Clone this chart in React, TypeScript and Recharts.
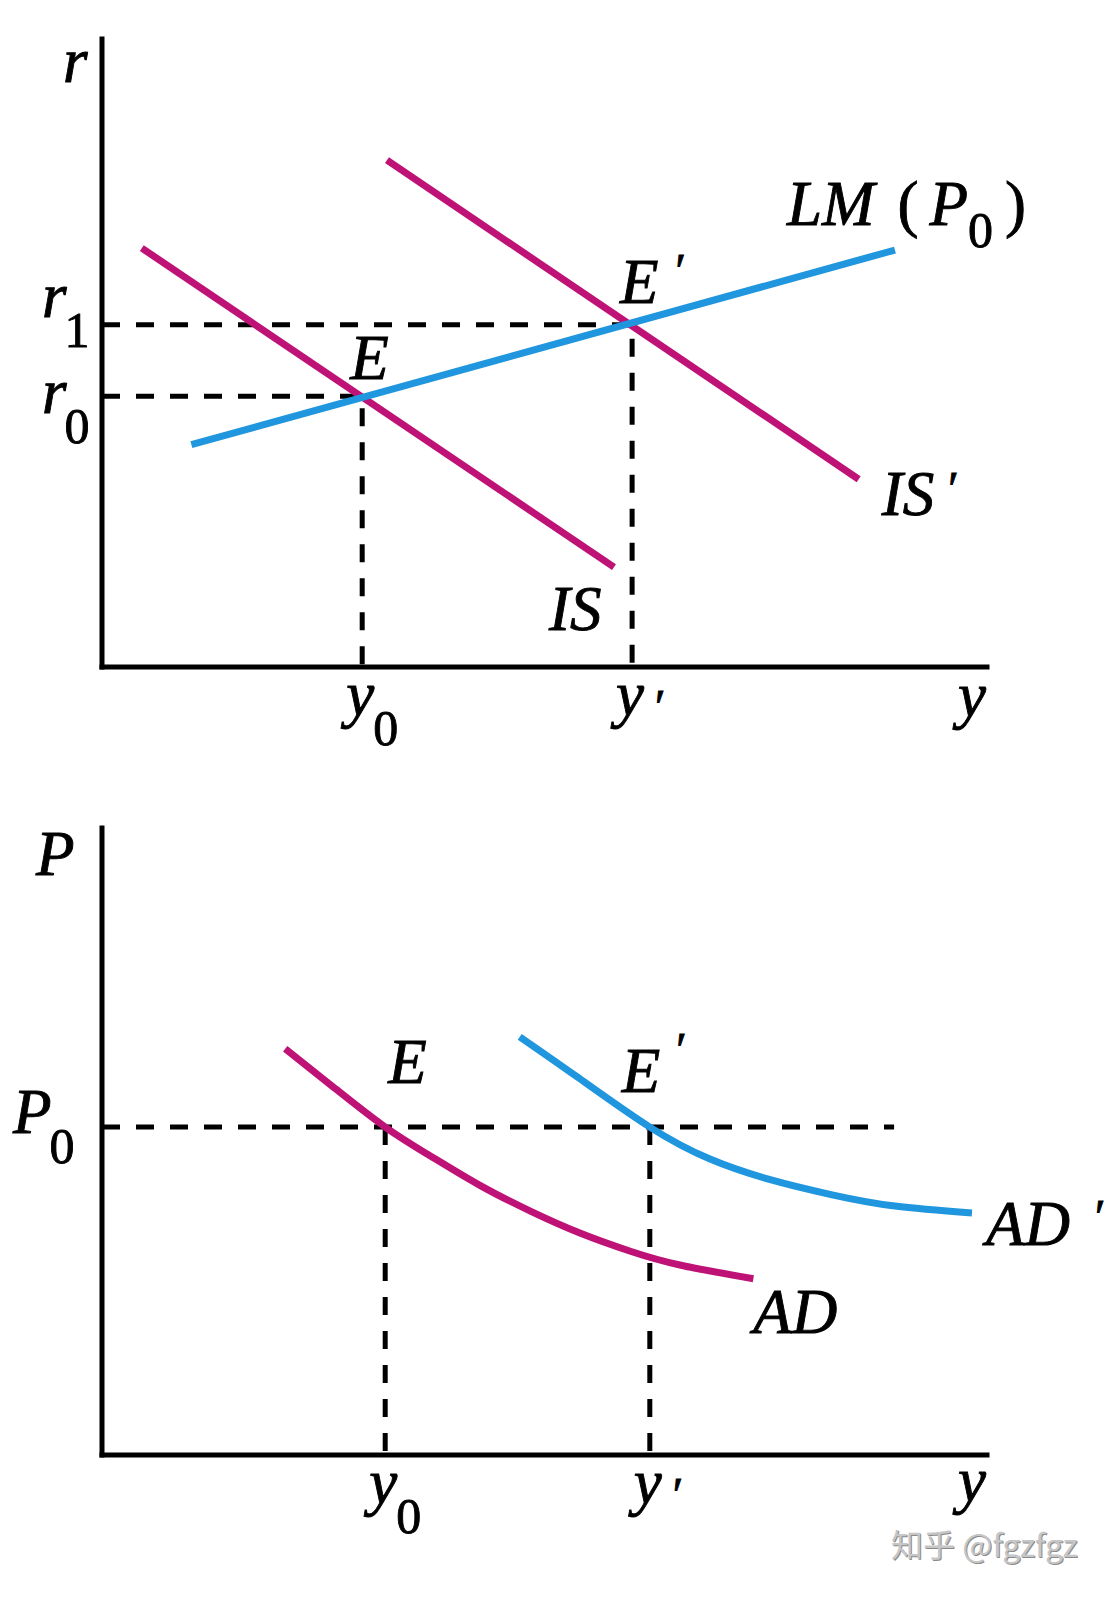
import { LineChart, Line, XAxis, YAxis, ReferenceDot } from "recharts";

const SERIF = "'Liberation Serif', 'Times New Roman', 'DejaVu Serif', serif";
const MAGENTA = "#BE1277";
const BLUE = "#1F96DE";
const DASH = "18 16";

// top panel: IS-LM, income y on the x axis, interest rate r on the y axis
const yTop = [2.94, 5.99]; // y0, y'
const yTopMarks = ["0", "′"];
const rTicks = [4.31, 5.45]; // r0, r1
const rMarks = ["0", "1"];
const isLine = [{ y: 0.45, r: 6.67 }, { y: 5.785, r: 1.59 }];
const isShifted = [{ y: 3.22, r: 8.07 }, { y: 8.55, r: 2.99 }];
const lmLine = [{ y: 1.01, r: 3.54 }, { y: 8.96, r: 6.64 }];

// bottom panel: AD, price level P on the y axis
const yBottom = [3.2, 6.19];
const yBottomMarks = ["0", "′"];
const pTicks = [5.23]; // P0
const pLineEnd = 8.95;
const adCurve = [
  { y: 2.07, p: 6.48 },
  { y: 2.63, p: 5.85 },
  { y: 3.2, p: 5.23 },
  { y: 3.71, p: 4.77 },
  { y: 4.27, p: 4.3 },
  { y: 4.84, p: 3.89 },
  { y: 5.4, p: 3.54 },
  { y: 5.97, p: 3.25 },
  { y: 6.53, p: 3.03 },
  { y: 7.36, p: 2.81 },
];
const adShifted = [
  { y: 4.72, p: 6.67 },
  { y: 5.37, p: 6.03 },
  { y: 6.19, p: 5.23 },
  { y: 6.87, p: 4.72 },
  { y: 7.53, p: 4.4 },
  { y: 8.25, p: 4.15 },
  { y: 8.96, p: 3.97 },
  { y: 9.83, p: 3.86 },
];

type Part = { t: string; k?: "i" | "n" | "s" | "p"; dx?: number; b?: number };

function Tex({ x, y, parts }: { x: number; y: number; parts: Part[] }) {
  let base = 0;
  return (
    <text x={x} y={y} fontFamily={SERIF} fontSize={63} fill="#000" stroke="#000" strokeWidth={0.9}>
      {parts.map((p, i) => {
        const k = p.k ?? "i";
        const b = p.b ?? (k === "s" ? 30 : 0);
        const dy = b - base;
        base = b;
        return (
          <tspan
            key={i}
            dx={p.dx ?? 0}
            dy={dy}
            fontStyle={k === "i" || k === "p" ? "italic" : "normal"}
            fontSize={k === "s" ? 50 : k === "p" ? 48 : 63}
          >
            {p.t}
          </tspan>
        );
      })}
    </text>
  );
}

// label tied to a data point, shifted by a few pixels
const note = (parts: Part[], dx: number, dy: number) => (p: any) =>
  <Tex x={p.cx + dx} y={p.cy + dy} parts={parts} />;

const xTick = (ticks: number[], marks: string[]) => (p: any) => {
  const m = marks[ticks.indexOf(p.payload.value)];
  const parts: Part[] =
    m === "′" ? [{ t: "y" }, { t: "′", k: "p", dx: 8, b: 8 }] : [{ t: "y" }, { t: m, k: "s", b: 30, dx: -1 }];
  return <Tex x={p.x - 16} y={p.y + 48} parts={parts} />;
};

const yTick = (sym: string, shift: number, ticks: number[], marks: string[], lift: Record<string, number>) =>
  (p: any) => {
    const m = marks[ticks.indexOf(p.payload.value)];
    const off = lift[m] ?? 0;
    return <Tex x={p.x - shift} y={p.y + off} parts={[{ t: sym }, { t: m, k: "s", b: 30, dx: -2 }]} />;
  };

const axisLine = { stroke: "#000", strokeWidth: 5, strokeLinecap: "square" as const };
const guide = { stroke: "#000", strokeWidth: 5, strokeDasharray: DASH, dot: false, isAnimationActive: false };

function TopPanel() {
  const [y0, y1] = yTop;
  const [r0, r1] = rTicks;
  return (
    <LineChart width={1115} height={780} margin={{ top: 39, right: 128, bottom: 0, left: 0 }}>
      <XAxis
        dataKey="y"
        type="number"
        domain={[0, 10]}
        allowDataOverflow
        height={113}
        ticks={yTop}
        interval={0}
        tickSize={0}
        tickMargin={0}
        tickLine={false}
        axisLine={axisLine}
        tick={xTick(yTop, yTopMarks)}
      />
      <YAxis
        type="number"
        domain={[0, 10]}
        allowDataOverflow
        width={102}
        ticks={rTicks}
        interval={0}
        tickSize={0}
        tickMargin={0}
        tickLine={false}
        axisLine={axisLine}
        tick={yTick("r", 60, rTicks, rMarks, { "0": 17, "1": -8 })}
      />
      <Line data={[{ y: 0, r: r0 }, { y: y0, r: r0 }, { y: y0, r: 0 }]} dataKey="r" {...guide} />
      <Line data={[{ y: 0, r: r1 }, { y: y1, r: r1 }, { y: y1, r: 0 }]} dataKey="r" {...guide} />
      <Line data={isLine} dataKey="r" stroke={MAGENTA} strokeWidth={7} dot={false} isAnimationActive={false} />
      <Line data={isShifted} dataKey="r" stroke={MAGENTA} strokeWidth={7} dot={false} isAnimationActive={false} />
      <Line data={lmLine} dataKey="r" stroke={BLUE} strokeWidth={7} dot={false} isAnimationActive={false} />
      <ReferenceDot x={0} y={10} ifOverflow="visible" shape={note([{ t: "r" }], -39, 43)} />
      <ReferenceDot x={10} y={0} ifOverflow="visible" shape={note([{ t: "y" }], -29, 49)} />
      <ReferenceDot x={y0} y={r0} shape={note([{ t: "E" }], -12, -17)} />
      <ReferenceDot x={y1} y={r1} shape={note([{ t: "E" }, { t: "′", k: "p", dx: 14, b: -16 }], -12, -22)} />
      <ReferenceDot
        x={lmLine[1].y}
        y={lmLine[1].r}
        shape={note(
          [
            { t: "LM" },
            { t: "(", k: "n", dx: 23 },
            { t: "P", dx: 11 },
            { t: "0", k: "s", b: 22 },
            { t: ")", k: "n", dx: 12, b: 0 },
          ],
          -108,
          -25
        )}
      />
      <ReferenceDot
        x={isShifted[1].y}
        y={isShifted[1].r}
        shape={note([{ t: "IS" }, { t: "′", k: "p", dx: 11, b: -10 }], 23, 36)}
      />
      <ReferenceDot x={isLine[1].y} y={isLine[1].r} shape={note([{ t: "IS" }], -65, 63)} />
    </LineChart>
  );
}

function BottomPanel() {
  const [y0, y1] = yBottom;
  const [p0] = pTicks;
  const adEnd = adCurve[adCurve.length - 1];
  const adsEnd = adShifted[adShifted.length - 1];
  return (
    <LineChart width={1115} height={780} margin={{ top: 39, right: 128, bottom: 0, left: 0 }}>
      <XAxis
        dataKey="y"
        type="number"
        domain={[0, 10]}
        allowDataOverflow
        height={114}
        ticks={yBottom}
        interval={0}
        tickSize={0}
        tickMargin={0}
        tickLine={false}
        axisLine={axisLine}
        tick={xTick(yBottom, yBottomMarks)}
      />
      <YAxis
        type="number"
        domain={[0, 10]}
        allowDataOverflow
        width={102}
        ticks={pTicks}
        interval={0}
        tickSize={0}
        tickMargin={0}
        tickLine={false}
        axisLine={axisLine}
        tick={yTick("P", 89, pTicks, ["0"], { "0": 6 })}
      />
      <Line data={[{ y: 0, p: p0 }, { y: pLineEnd, p: p0 }]} dataKey="p" {...guide} />
      <Line data={[{ y: y0, p: p0 }, { y: y0, p: 0 }]} dataKey="p" {...guide} />
      <Line data={[{ y: y1, p: p0 }, { y: y1, p: 0 }]} dataKey="p" {...guide} />
      <Line data={adCurve} dataKey="p" type="natural" stroke={MAGENTA} strokeWidth={7} dot={false} isAnimationActive={false} />
      <Line data={adShifted} dataKey="p" type="natural" stroke={BLUE} strokeWidth={7} dot={false} isAnimationActive={false} />
      <ReferenceDot x={0} y={10} ifOverflow="visible" shape={note([{ t: "P" }], -66, 47)} />
      <ReferenceDot x={10} y={0} ifOverflow="visible" shape={note([{ t: "y" }], -29, 46)} />
      <ReferenceDot x={y0} y={p0} shape={note([{ t: "E" }], 3, -44)} />
      <ReferenceDot x={y1} y={p0} shape={note([{ t: "E" }, { t: "′", k: "p", dx: 13, b: -26 }], -28, -35)} />
      <ReferenceDot x={adsEnd.y} y={adsEnd.p} shape={note([{ t: "AD" }, { t: "′", k: "p", dx: 22, b: -12 }], 14, 32)} />
      <ReferenceDot x={adEnd.y} y={adEnd.p} shape={note([{ t: "AD" }], 0, 54)} />
    </LineChart>
  );
}

export default function App() {
  return (
    <div style={{ position: "absolute", left: 0, top: 0, width: 1115, height: 1597, background: "#fff" }}>
      <div style={{ position: "absolute", left: 0, top: 0 }}>
        <TopPanel />
      </div>
      <div style={{ position: "absolute", left: 0, top: 789 }}>
        <BottomPanel />
      </div>
      <div
        style={{
          position: "absolute",
          left: 891,
          top: 1527,
          fontFamily: "'Noto Sans CJK SC', 'Noto Sans', sans-serif",
          fontSize: 32,
          lineHeight: "32px",
          color: "#c6c6c6",
          textShadow: "1px 1px 0 #8a8a8a",
          whiteSpace: "nowrap",
        }}
      >
        知乎 @fgzfgz
      </div>
    </div>
  );
}
